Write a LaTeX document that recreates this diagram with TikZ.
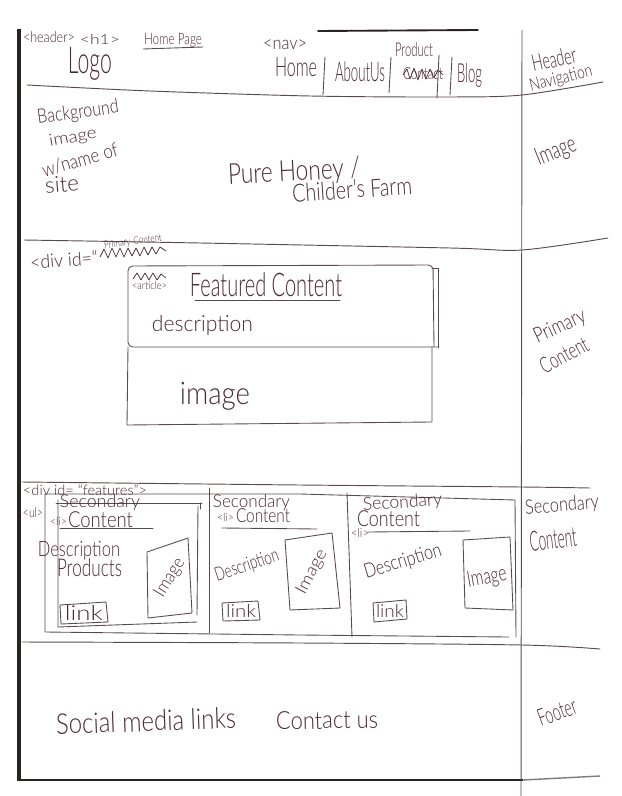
\documentclass[tikz,border=0pt]{standalone}
\usepackage{fontspec}
\setmainfont{Lato Light}
\usepackage{graphicx}
% one unit of the drawing grid
\newlength\pxu
\setlength\pxu{0.03cm}
% hand-lettered label: width, total height, text
\newcommand\hw[3]{\resizebox*{#1\pxu}{#2\pxu}{#3}}
\definecolor{ink}{HTML}{4E2832}
\definecolor{pencil}{HTML}{5B4A4D}
\definecolor{edge}{HTML}{2A2324}
\tikzset{
  pen/.style={draw=pencil, line width=0.75pt, line cap=round, line join=round},
  rule/.style={draw=pencil, line width=0.8pt, line cap=round},
  hand/.style={inner sep=0pt, outer sep=0pt, text=ink, anchor=center},
  scrib/.style={draw=ink, line width=0.6pt, line join=round},
}
\begin{document}
\begin{tikzpicture}[x=0.03cm, y=-0.03cm]
\fill[white] (0,0) rectangle (621,796);
\useasboundingbox (0,0) rectangle (621,796);

% ---------- page edges ----------
\draw[edge, line width=2.6pt] (19,29) -- (19,781);
\draw[edge, line width=2.2pt] (19,780) -- (523,780);
\draw[edge!60!white, line width=1.2pt] (523,780) -- (600,776);
\draw[edge, line width=1.6pt, line cap=round] (318,31) -- (478,30);

% ---------- section rules ----------
\draw[rule] (522,30) -- (521,796);
\draw[rule] plot[smooth] coordinates {(27,85) (150,91) (310,96) (450,97) (522,95) (603,82)};
\draw[rule] plot[smooth] coordinates {(24,240) (200,243) (450,248) (522,250) (608,238)};
\draw[rule] plot[smooth] coordinates {(22,482) (300,485) (522,487) (590,488)};
\draw[rule] plot[smooth] coordinates {(22,642) (300,643) (522,645) (600,649)};

% ---------- header ----------
\node[hand] (tHeader) at (49,37.5) {\hw{52}{11}{<header>}};
\node[hand] (tH1) at (100,40) {\hw{40}{10}{<h1>}};
\node[hand] (tHomePage) at (173,40) {\hw{58}{14}{Home Page}};
\draw[pen] (143,49) -- (203,47);
\node[hand] (tNav) at (285,45) {\hw{44}{10}{<nav>}};
\node[hand] (logo) at (90,63.5) {\hw{44}{33}{Logo}};
\node[hand] (navHome) at (296,67.5) {\hw{42}{19}{Home}};
\node[hand] (navAbout) at (360,72) {\hw{50}{20}{AboutUs}};
\node[hand] (navProduct) at (414,50) {\hw{38}{14}{Product}};
\node[hand] (navContact) at (423,74) {\hw{40}{12}{Contact}};
\draw[scrib] plot coordinates {(403,75) (407,69) (410,79) (414,68) (418,80) (422,69) (426,79) (430,69) (434,78) (438,70) (443,75)};
\node[hand] (navBlog) at (469.5,75) {\hw{25}{24}{Blog}};
\draw[pen] (325,57) -- (323,95);
\draw[pen] (391,57) -- (389,93);
\draw[pen] (439,55) -- (437,98);
\draw[pen] (452,57) -- (450,95);
\node[hand, rotate=12] (lblHeader) at (554,59) {\hw{45}{17}{Header}};
\node[hand, rotate=14] (lblNav) at (561,79) {\hw{64}{16}{Navigation}};

% ---------- banner image ----------
\node[hand, rotate=8] (bgA) at (78,113) {\hw{82}{18}{Background}};
\node[hand, rotate=10] (bgB) at (73,138) {\hw{48}{15}{image}};
\node[hand, rotate=16] (bgC) at (80,160) {\hw{78}{15}{w/name of}};
\node[hand, rotate=5] (bgD) at (62,184) {\hw{34}{16}{site}};
\node[hand, rotate=3] (siteA) at (294,173) {\hw{132}{26}{Pure Honey /}};
\node[hand, rotate=4] (siteB) at (352,189) {\hw{120}{19}{Childer's Farm}};
\node[hand, rotate=22] (lblImage) at (556,152) {\hw{42}{22}{Image}};

% ---------- primary content ----------
\node[hand, rotate=4] (divTag) at (64,260) {\hw{68}{14}{<div id=“}};
\node[hand, rotate=8] (divId) at (133,242) {\hw{58}{9}{Primary-Content}};
\draw[scrib] plot coordinates {(100,257) (104,249) (108,258) (112,248) (116,257) (120,248) (124,257) (128,248) (132,256) (136,248) (140,256) (144,247) (148,255) (152,247) (156,254) (160,247) (166,251)};
\draw[pen, rounded corners=4] (438,347) -- (128,347) -- (128,266) -- (433,265) -- (434,347);
\draw[pen] (432,268) -- (438,268) -- (438,348);
\draw[pen] (128,347) -- (127,425) -- (432,422) -- (432,347);
\draw[scrib] plot coordinates {(133,279) (137,273) (141,280) (145,273) (149,280) (153,273) (157,280) (161,274) (166,278)};
\node[hand] (tArticle) at (149.5,286) {\hw{35}{8}{<article>}};
\node[hand] (featTitle) at (266,285) {\hw{152}{24}{Featured Content}};
\draw[pen] (195,300) -- (340,300);
\node[hand] (featDesc) at (202.5,325) {\hw{101}{20}{description}};
\node[hand] (featImg) at (215,396) {\hw{70}{28}{image}};
\node[hand, rotate=25] (lblPrimA) at (560,327) {\hw{55}{19}{Primary}};
\node[hand, rotate=28] (lblPrimB) at (564,355) {\hw{52}{16}{Content}};

% ---------- secondary content ----------
\node[hand] (featTag) at (85,490) {\hw{124}{11}{<div id= “features”>}};
\node[hand] (ulTag) at (33,512.5) {\hw{20}{10}{<ul>}};
% list frame
\draw[pen] (45,494) -- (300,494) -- (515,500) -- (516,637);
\draw[pen] (45,494) -- (45,632) -- (300,635) -- (509,637);
% first item
\draw[pen] (58,500) -- (58,627) -- (197,622);
\draw[pen] (56,503) -- (202,503);
\draw[pen] (200,503) -- (200,509);
\draw[pen] (198,506) -- (197,615);
\draw[pen] (209,488) -- (209,633);
\draw[pen] (347,493) -- (352,637);
\node[hand] (s1Title) at (100,502.5) {\hw{80}{16}{Secondary}};
\node[hand] (s1Li) at (58.5,521) {\hw{17}{8}{<li>}};
\node[hand] (s1Cont) at (100.5,520) {\hw{65}{16}{Content}};
\draw[pen] (60,528) -- (153,528);
\node[hand] (s1DescA) at (79,551) {\hw{82}{19}{Description}};
\node[hand] (s1DescB) at (89.5,568) {\hw{65}{18}{Products}};
\draw[pen] (147,552) -- (188,538) -- (192,613) -- (148,618) -- cycle;
\node[hand, rotate=58] (s1Img) at (170,578) {\hw{42}{16}{Image}};
\draw[pen] (60,605) -- (106,602) -- (108,622) -- (61,624) -- cycle;
\node[hand] (s1Link) at (84,613) {\hw{38}{15}{link}};
% second item
\node[hand] (s2Title) at (251.5,503) {\hw{77}{16}{Secondary}};
\node[hand] (s2Li) at (225.5,517) {\hw{17}{8}{<li>}};
\node[hand] (s2Cont) at (263,516) {\hw{54}{14}{Content}};
\draw[pen] (222,528) -- (317,529);
\node[hand, rotate=18] (s2Desc) at (247,566) {\hw{66}{17}{Description}};
\draw[pen] (285,540) -- (332,533) -- (340,608) -- (290,610) -- cycle;
\node[hand, rotate=62] (s2Img) at (312,572) {\hw{48}{15}{Image}};
\draw[pen] (222,603) -- (258,601) -- (260,620) -- (223,621) -- cycle;
\node[hand] (s2Link) at (241,611) {\hw{30}{13}{link}};
% third item
\node[hand, rotate=4] (s3Title) at (402.5,503) {\hw{79}{16}{Secondary}};
\node[hand] (s3Cont) at (388.5,519) {\hw{63}{16}{Content}};
\node[hand] (s3Li) at (360,533) {\hw{18}{9}{<li>}};
\draw[pen] (368,532) -- (470,531);
\node[hand, rotate=17] (s3Desc) at (403,562) {\hw{80}{18}{Description}};
\draw[pen] (463,540) -- (510,537) -- (513,610) -- (465,608) -- cycle;
\node[hand, rotate=10] (s3Img) at (487,578) {\hw{40}{20}{Image}};
\draw[pen] (373,603) -- (406,600) -- (407,619) -- (374,622) -- cycle;
\node[hand] (s3Link) at (390,611) {\hw{28}{13}{link}};
\node[hand, rotate=5] (lblSecA) at (562,506) {\hw{74}{18}{Secondary}};
\node[hand, rotate=6] (lblSecB) at (553,539) {\hw{47}{20}{Content}};

% ---------- footer ----------
\node[hand, rotate=2] (social) at (146,721) {\hw{180}{21}{Social media links}};
\node[hand, rotate=1] (contact) at (327,720) {\hw{102}{18}{Contact us}};
\node[hand, rotate=20] (lblFooter) at (557,712) {\hw{40}{17}{Footer}};
\end{tikzpicture}
\end{document}
